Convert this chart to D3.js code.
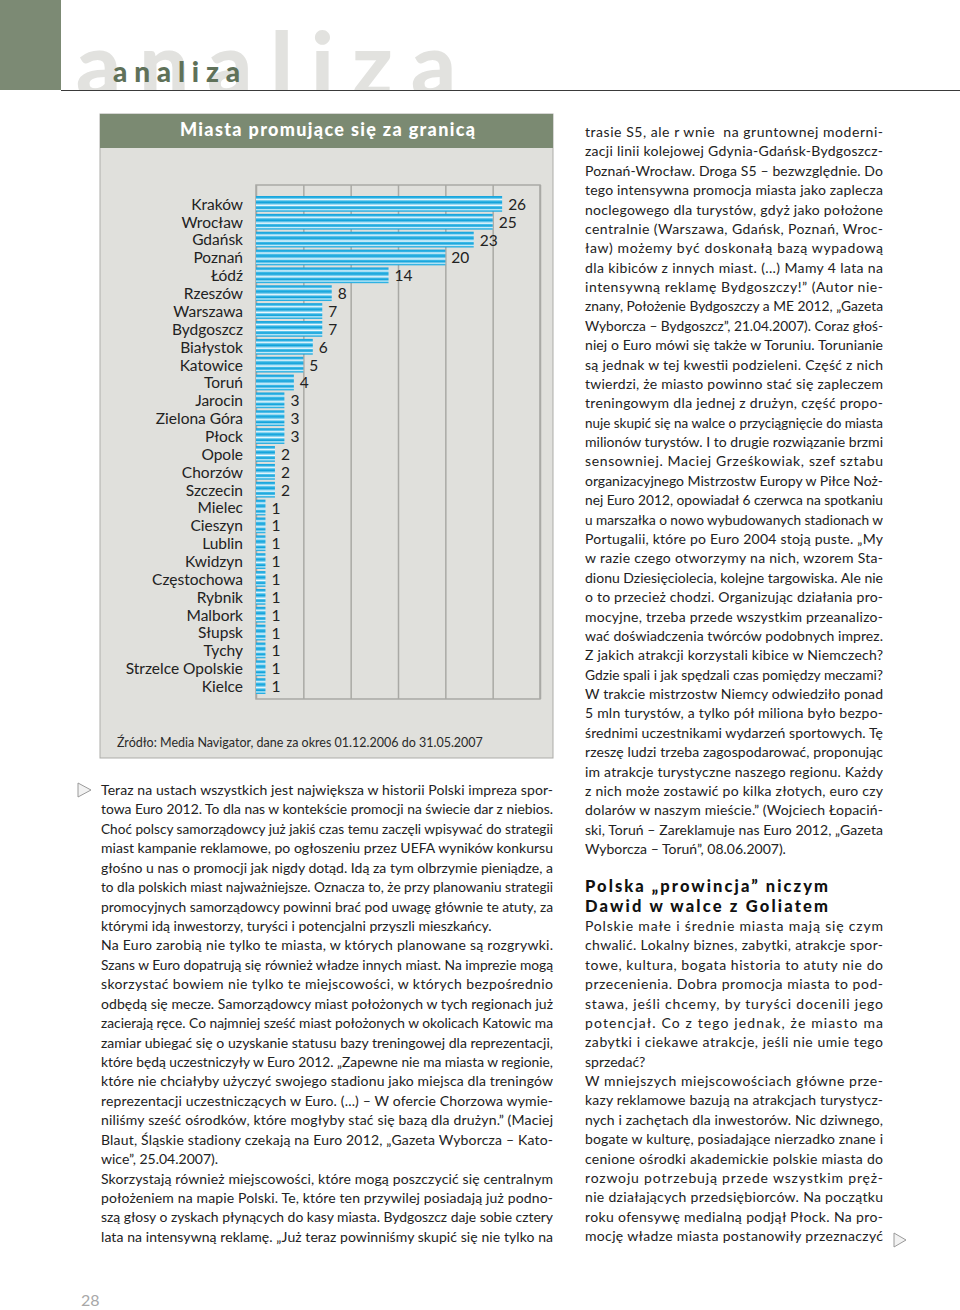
<!DOCTYPE html>
<html><head><meta charset="utf-8">
<script src="https://cdn.jsdelivr.net/npm/d3@7"></script>
<style>html,body{margin:0;padding:0;background:#fff}svg{display:block}</style>
</head><body>
<svg id="page" width="960" height="1310"></svg>
<script>
// ---------- DATA ----------
const cities = ["Kraków","Wrocław","Gdańsk","Poznań","Łódź","Rzeszów","Warszawa","Bydgoszcz","Białystok","Katowice","Toruń","Jarocin","Zielona Góra","Płock","Opole","Chorzów","Szczecin","Mielec","Cieszyn","Lublin","Kwidzyn","Częstochowa","Rybnik","Malbork","Słupsk","Tychy","Strzelce Opolskie","Kielce"];
const counts = [26,25,23,20,14,8,7,7,6,5,4,3,3,3,2,2,2,1,1,1,1,1,1,1,1,1,1,1];
const xTicks = [0,5,10,15,20,25,30];
const chartTitle = "Miasta promujące się za granicą";
const sourceNote = "Źródło: Media Navigator, dane za okres 01.12.2006 do 31.05.2007";
const sectionWord = "analiza";
const pageNumber = "28";
const heading = ["Polska „prowincja” niczym","Dawid w walce z Goliatem"];

const leftParas = [
 {end:true, lines:[
 "Teraz na ustach wszystkich jest największa w historii Polski impreza spor-",
 "towa Euro 2012. To dla nas w kontekście promocji na świecie dar z niebios.",
 "Choć polscy samorządowcy już jakiś czas temu zaczęli wpisywać do strategii",
 "miast kampanie reklamowe, po ogłoszeniu przez UEFA wyników konkursu",
 "głośno u nas o promocji jak nigdy dotąd. Idą za tym olbrzymie pieniądze, a",
 "to dla polskich miast najważniejsze. Oznacza to, że przy planowaniu strategii",
 "promocyjnych samorządowcy powinni brać pod uwagę głównie te atuty, za",
 "którymi idą inwestorzy, turyści i potencjalni przyszli mieszkańcy."]},
 {end:true, lines:[
 "Na Euro zarobią nie tylko te miasta, w których planowane są rozgrywki.",
 "Szans w Euro dopatrują się również władze innych miast. Na imprezie mogą",
 "skorzystać bowiem nie tylko te miejscowości, w których bezpośrednio",
 "odbędą się mecze. Samorządowcy miast położonych w tych regionach już",
 "zacierają ręce. Co najmniej sześć miast położonych w okolicach Katowic ma",
 "zamiar ubiegać się o uzyskanie statusu bazy treningowej dla reprezentacji,",
 "które będą uczestniczyły w Euro 2012. „Zapewne nie ma miasta w regionie,",
 "które nie chciałyby użyczyć swojego stadionu jako miejsca dla treningów",
 "reprezentacji uczestniczących w Euro. (...) – W ofercie Chorzowa wymie-",
 "niliśmy sześć ośrodków, które mogłyby stać się bazą dla drużyn.” (Maciej",
 "Blaut, Śląskie stadiony czekają na Euro 2012, „Gazeta Wyborcza – Kato-",
 "wice”, 25.04.2007)."]},
 {end:false, lines:[
 "Skorzystają również miejscowości, które mogą poszczycić się centralnym",
 "położeniem na mapie Polski. Te, które ten przywilej posiadają już podno-",
 "szą głosy o zyskach płynących do kasy miasta. Bydgoszcz daje sobie cztery",
 "lata na intensywną reklamę. „Już teraz powinniśmy skupić się nie tylko na"]}
];
const rightParasTop = [
 {end:true, lines:[
 "trasie S5, ale r wnie  na gruntownej moderni-",
 "zacji linii kolejowej Gdynia-Gdańsk-Bydgoszcz-",
 "Poznań-Wrocław. Droga S5 – bezwzględnie. Do",
 "tego intensywna promocja miasta jako zaplecza",
 "noclegowego dla turystów, gdyż jako położone",
 "centralnie (Warszawa, Gdańsk, Poznań, Wroc-",
 "ław) możemy być doskonałą bazą wypadową",
 "dla kibiców z innych miast. (...) Mamy 4 lata na",
 "intensywną reklamę Bydgoszczy!” (Autor nie-",
 "znany, Położenie Bydgoszczy a ME 2012, „Gazeta",
 "Wyborcza – Bydgoszcz”, 21.04.2007). Coraz głoś-",
 "niej o Euro mówi się także w Toruniu. Torunianie",
 "są jednak w tej kwestii podzieleni. Część z nich",
 "twierdzi, że miasto powinno stać się zapleczem",
 "treningowym dla jednej z drużyn, część propo-",
 "nuje skupić się na walce o przyciągnięcie do miasta",
 "milionów turystów. I to drugie rozwiązanie brzmi",
 "sensowniej. Maciej Grześkowiak, szef sztabu",
 "organizacyjnego Mistrzostw Europy w Piłce Noż-",
 "nej Euro 2012, opowiadał 6 czerwca na spotkaniu",
 "u marszałka o nowo wybudowanych stadionach w",
 "Portugalii, które po Euro 2004 stoją puste. „My",
 "w razie czego otworzymy na nich, wzorem Sta-",
 "dionu Dziesięciolecia, kolejne targowiska. Ale nie",
 "o to przecież chodzi. Organizując działania pro-",
 "mocyjne, trzeba przede wszystkim przeanalizo-",
 "wać doświadczenia twórców podobnych imprez.",
 "Z jakich atrakcji korzystali kibice w Niemczech?",
 "Gdzie spali i jak spędzali czas pomiędzy meczami?",
 "W trakcie mistrzostw Niemcy odwiedziło ponad",
 "5 mln turystów, a tylko pół miliona było bezpo-",
 "średnimi uczestnikami wydarzeń sportowych. Tę",
 "rzeszę ludzi trzeba zagospodarować, proponując",
 "im atrakcje turystyczne naszego regionu. Każdy",
 "z nich może zostawić po kilka złotych, euro czy",
 "dolarów w naszym mieście.” (Wojciech Łopaciń-",
 "ski, Toruń – Zareklamuje nas Euro 2012, „Gazeta",
 "Wyborcza – Toruń”, 08.06.2007)."]}
];
const rightParasBottom = [
 {end:true, lines:[
 "Polskie małe i średnie miasta mają się czym",
 "chwalić. Lokalny biznes, zabytki, atrakcje spor-",
 "towe, kultura, bogata historia to atuty nie do",
 "przecenienia. Dobra promocja miasta to pod-",
 "stawa, jeśli chcemy, by turyści docenili jego",
 "potencjał. Co z tego jednak, że miasto ma",
 "zabytki i ciekawe atrakcje, jeśli nie umie tego",
 "sprzedać?"]},
 {end:false, lines:[
 "W mniejszych miejscowościach główne prze-",
 "kazy reklamowe bazują na atrakcjach turystycz-",
 "nych i zachętach dla inwestorów. Nic dziwnego,",
 "bogate w kulturę, posiadające nierzadko znane i",
 "cenione ośrodki akademickie polskie miasta do",
 "rozwoju potrzebują przede wszystkim pręż-",
 "nie działających przedsiębiorców. Na początku",
 "roku ofensywę medialną podjął Płock. Na pro-",
 "mocję władze miasta postanowiły przeznaczyć"]}
];

// ---------- PAGE ----------
const svg = d3.select("#page");
const FONT = "Lato, 'Open Sans', sans-serif";
svg.append("rect").attr("width",960).attr("height",1310).attr("fill","#fff");

// masthead
const mast = svg.append("g");
mast.append("clipPath").attr("id","mastClip").append("rect").attr("x",0).attr("y",0).attr("width",960).attr("height",90);
mast.append("text").attr("clip-path","url(#mastClip)")
  .attr("x",76).attr("y",96).attr("font-family",FONT).attr("font-weight",900)
  .attr("font-size",88).attr("fill","#e2e2df")
  .attr("textLength",380).attr("lengthAdjust","spacing").text(sectionWord);
mast.append("rect").attr("x",0).attr("y",0).attr("width",61).attr("height",90).attr("fill","#7c8a74");
mast.append("text").attr("x",113).attr("y",82).attr("font-family",FONT).attr("font-weight",900)
  .attr("font-size",28).attr("fill","#5f7159")
  .attr("textLength",127).attr("lengthAdjust","spacing").text(sectionWord);
mast.append("line").attr("x1",61).attr("x2",960).attr("y1",90.5).attr("y2",90.5)
  .attr("stroke","#3a3a3a").attr("stroke-width",1.2);

// ---------- CHART PANEL ----------
const panel = {x:100, y:114, w:453, h:644};
svg.append("rect").attr("x",panel.x).attr("y",panel.y).attr("width",panel.w).attr("height",panel.h)
  .attr("fill","#e0e0dc").attr("stroke","#adada9").attr("stroke-width",1);
svg.append("rect").attr("x",panel.x).attr("y",panel.y).attr("width",panel.w).attr("height",34)
  .attr("fill","#7b8a72");
svg.append("text").attr("x",180).attr("y",136).attr("font-family",FONT).attr("font-weight",900)
  .attr("font-size",18).attr("fill","#fff")
  .attr("textLength",295).attr("lengthAdjust","spacing").text(chartTitle);

const defs = svg.append("defs");
const grad = defs.append("linearGradient").attr("id","barGrad")
  .attr("x1",0).attr("y1",0).attr("x2",0).attr("y2",1);
[[0,"#12a2da"],[0.12,"#2eb1e4"],[0.22,"#e8f7fd"],[0.32,"#3bb8e6"],[0.42,"#12a2da"],
 [0.52,"#7fd0ef"],[0.6,"#f5fbfe"],[0.68,"#3bb8e6"],[0.78,"#12a2da"],[0.87,"#cdeefa"],[0.94,"#3bb8e6"],[1,"#12a2da"]]
 .forEach(([o,c])=>grad.append("stop").attr("offset",o).attr("stop-color",c));

const plot = {left:256, right:540, top:185, bottom:699};
const x = d3.scaleLinear().domain([0,30]).range([plot.left, plot.right]);
const y = d3.scaleBand().domain(cities).range([196, 694]).paddingInner(0.12).paddingOuter(0);

const g = svg.append("g");
g.append("rect").attr("x",plot.left).attr("y",plot.top)
  .attr("width",plot.right-plot.left).attr("height",plot.bottom-plot.top)
  .attr("fill","none").attr("stroke","#a9a9a5").attr("stroke-width",1.5);
const grid = g.append("g").attr("transform",`translate(0,${plot.bottom})`)
  .call(d3.axisBottom(x).tickValues(xTicks).tickSize(-(plot.bottom-plot.top)).tickFormat(""));
grid.select(".domain").remove();
grid.selectAll(".tick line").attr("stroke","#a9a9a5").attr("stroke-width",1.5);

g.selectAll("rect.bar").data(cities).join("rect").attr("class","bar")
  .attr("x",x(0)).attr("y",d=>y(d))
  .attr("width",(d,i)=>x(counts[i])-x(0)).attr("height",y.bandwidth())
  .attr("fill","url(#barGrad)");

g.selectAll("text.val").data(cities).join("text").attr("class","val")
  .attr("x",(d,i)=>x(counts[i])+6).attr("y",d=>y(d)+y.bandwidth()/2+6)
  .attr("font-family",FONT).attr("font-size",15.5).attr("fill","#222")
  .text((d,i)=>counts[i]);

const yAxis = g.append("g").attr("transform","translate(243,0)")
  .call(d3.axisLeft(y).tickSize(0).tickPadding(0));
yAxis.select(".domain").remove();
yAxis.selectAll("text").attr("font-family",FONT).attr("font-size",15.5).attr("fill","#222")
  .attr("dy","0.38em").attr("text-anchor","end").attr("x",0);

svg.append("text").attr("x",117).attr("y",747).attr("font-family",FONT).attr("font-size",12.5)
  .attr("fill","#2a2a2a").text(sourceNote);

// ---------- BODY TEXT ----------
function drawColumn(paras, x0, x1, yStart, dy){
  let yy = yStart;
  const target = x1 - x0;
  paras.forEach(p=>{
    p.lines.forEach((ln,i)=>{
      const t = svg.append("text").attr("x",x0).attr("y",yy)
        .attr("font-family",FONT).attr("font-size",14).attr("fill","#222")
        .attr("xml:space","preserve").text(ln);
      const last = p.end && i===p.lines.length-1;
      const w = t.node().getComputedTextLength();
      if(!last){
        t.attr("textLength",target).attr("lengthAdjust", w>target ? "spacingAndGlyphs" : "spacing");
      } else if (w>target){
        t.attr("textLength",target).attr("lengthAdjust","spacingAndGlyphs");
      }
      yy += dy;
    });
  });
  return yy;
}
drawColumn(leftParas, 101, 553, 795, 19.43);
drawColumn(rightParasTop, 585, 883, 137, 19.38);
heading.forEach((h,i)=>{
  svg.append("text").attr("x",585).attr("y",892+i*19.5).attr("font-family",FONT)
    .attr("font-weight",900).attr("font-size",16.5).attr("fill","#111")
    .attr("textLength",243).attr("lengthAdjust","spacing").text(h);
});
drawColumn(rightParasBottom, 585, 883, 931, 19.375);

const tri = d3.line();
svg.append("path").attr("d",tri([[78,783],[78,797],[91,790]])+"Z").attr("fill","#f2f2f2").attr("stroke","#9a9a9a").attr("stroke-width",1);
svg.append("path").attr("d",tri([[894,1233],[894,1247],[906,1240]])+"Z").attr("fill","#f2f2f2").attr("stroke","#9a9a9a").attr("stroke-width",1);

svg.append("text").attr("x",81).attr("y",1306).attr("font-family",FONT).attr("font-size",16)
  .attr("fill","#a8a8a8").text(pageNumber);
</script>
</body></html>
